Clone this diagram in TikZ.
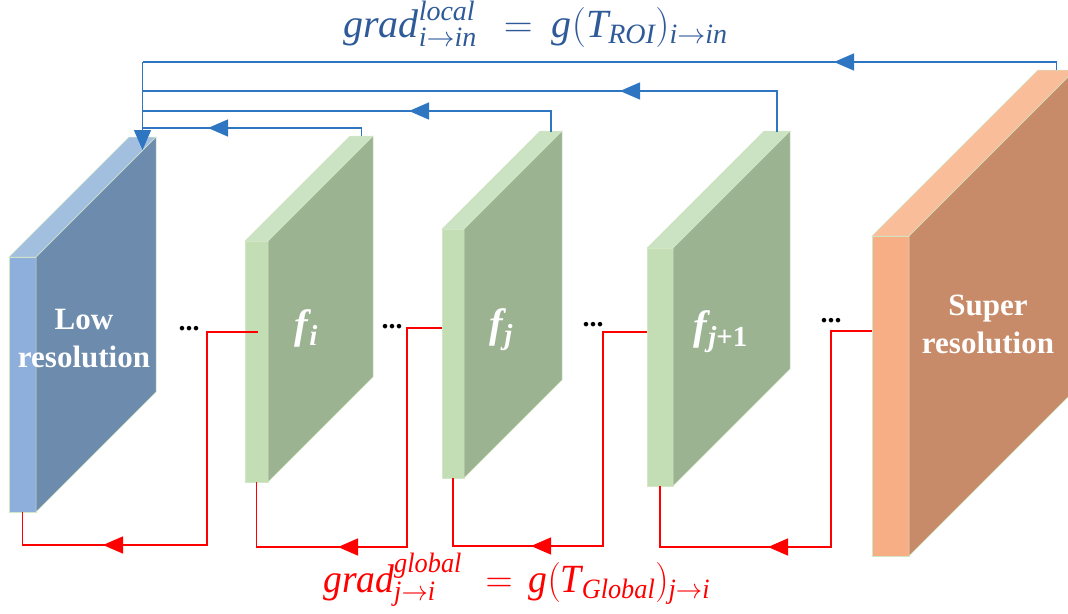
\RequirePackage{fix-cm}
\documentclass[tikz,border=0pt]{standalone}
\usepackage{fontspec}
\setmainfont{Liberation Serif}
\usepackage{amsmath}
\usepackage{graphicx}
\usetikzlibrary{arrows.meta,calc}
\definecolor{lrfront}{HTML}{8EAEDB}
\definecolor{lrtop}{HTML}{A3BFE0}
\definecolor{lrside}{HTML}{6C8BAD}
\definecolor{gfront}{HTML}{C3DDB4}
\definecolor{gtop}{HTML}{CCE3C3}
\definecolor{gside}{HTML}{9CB392}
\definecolor{srfront}{HTML}{F8AE84}
\definecolor{srtop}{HTML}{F9BD99}
\definecolor{srside}{HTML}{C88B69}
\definecolor{edgecol}{HTML}{D3E6C6}
\definecolor{bluel}{HTML}{2E75C2}
\definecolor{bluetxt}{HTML}{2E5A98}
\definecolor{redl}{HTML}{FF0000}
\newcommand\myslab[9]{%
  \node[slabfront, fill=#7, minimum width=#4pt, minimum height=#5pt, anchor=north west] (#1) at (#2,#3) {};
  \filldraw[#9, draw=edgecol, line width=0.5pt] (#1.north east) -- ++(#6,-#6) -- ++(0,#5) -- (#1.south east) -- cycle;
  \filldraw[#8, draw=edgecol, line width=0.5pt] (#1.north west) -- ++(#6,-#6) -- ++(#4,0) -- (#1.north east) -- cycle;
}
\newcommand\fsub[1]{f\kern1.5pt\raisebox{-7pt}{\fontsize{29}{29}\selectfont #1}}
\begin{document}
\begin{tikzpicture}[x=1pt,y=-1pt,
  slabfront/.style={draw=edgecol, line width=0.5pt, inner sep=0pt, outer sep=0pt},
  bluec/.style={draw=bluel, line width=1.4pt},
  redc/.style={draw=redl, line width=1.4pt},
  btip/.style={-{Triangle[length=20pt,width=17pt]}},
  lbl/.style={text=white, font=\fontsize{31}{38}\selectfont\bfseries, align=center, inner sep=0pt},
  flbl/.style={text=white, font=\fontsize{41}{42}\selectfont\bfseries\itshape, inner sep=0pt, anchor=base west},
  dotsl/.style={font=\fontsize{28}{30}\selectfont\bfseries, inner sep=0pt},
  formula/.style={font=\fontsize{40}{42}\selectfont, inner sep=0pt, anchor=base west}]
\useasboundingbox (0,0) rectangle (1068,613);
\clip (0,0) rectangle (1068,613);

% slabs
\myslab{lr}{9}{257}{27}{255}{120}{lrfront}{lrtop}{lrside}
\myslab{fi}{245}{241}{23}{241}{105}{gfront}{gtop}{gside}
\myslab{fj}{442}{229}{22}{249}{98}{gfront}{gtop}{gside}
\myslab{fjj}{647}{248}{26}{238}{117}{gfront}{gtop}{gside}
\myslab{sr}{872}{236}{37}{320}{166}{srfront}{srtop}{srside}

% labels
\node[lbl] (lrtxt) at (84,339) {Low\\resolution};
\node[lbl] (srtxt) at (988,324) {Super\\resolution};
\node[flbl] (fitxt) at (294,338) {\fsub{i}};
\node[flbl] (fjtxt) at (489,337) {\fsub{j}};
\node[flbl] (fjjtxt) at (693,339) {\fsub{j\upshape +1}};

% dots
\node[dotsl] (d1) at (189,329) {...};
\node[dotsl] (d2) at (392,327) {...};
\node[dotsl] (d3) at (593,325) {...};
\node[dotsl] (d4) at (831,321) {...};

% blue connector anchors
\coordinate (lr-in) at ($(lr.north)+(120,-107)$);
\coordinate (fi-top) at ($(fi.north)+(105,-105)$);
\coordinate (fj-top) at ($(fj.north)+(98,-97)$);
\coordinate (fjj-top) at ($(fjj.north)+(117,-116)$);
\coordinate (sr-top) at ($(sr.north)+(166,-166)$);
\coordinate (b1) at (142.5,62);
\coordinate (b2) at (142.5,91);
\coordinate (b3) at (142.5,111);
\coordinate (b4) at (142.5,128);
\coordinate (bc1) at (1056.5,62);
\coordinate (bc2) at (777,91);
\coordinate (bc3) at (551,111);
\coordinate (bc4) at (361.5,128);
\coordinate (ba1) at (834,62);
\coordinate (ba2) at (620,91);
\coordinate (ba3) at (409,111);
\coordinate (ba4) at (208,128);

\draw[bluec] (sr-top) -- (bc1) -- (b1);
\draw[bluec] (fjj-top) -- (bc2) -- (b2);
\draw[bluec] (fj-top) -- (bc3) -- (b3);
\draw[bluec] (fi-top) -- (bc4) -- (b4);
\draw[bluec,btip] (bc1) -- (ba1);
\draw[bluec,btip] (bc2) -- (ba2);
\draw[bluec,btip] (bc3) -- (ba3);
\draw[bluec,btip] (bc4) -- (ba4);
\draw[bluec,btip] (b1) -- (lr-in);

% red connectors
\coordinate (fi-in) at (258,332);
\coordinate (fj-in) at (442,328);
\coordinate (fjj-in) at (647,332);
\coordinate (sr-in) at (872,331);
\coordinate (r1a) at (207,332); \coordinate (r1b) at (207,545); \coordinate (r1c) at (22.5,545); \coordinate (ra1) at (103,545);
\coordinate (r2a) at (407,328); \coordinate (r2b) at (407,547); \coordinate (r2c) at (256.5,547); \coordinate (ra2) at (338,547);
\coordinate (r3a) at (603,332); \coordinate (r3b) at (603,546); \coordinate (r3c) at (453,546); \coordinate (ra3) at (531,546);
\coordinate (r4a) at (831,331); \coordinate (r4b) at (831,547); \coordinate (r4c) at (660,547); \coordinate (ra4) at (768,547);

\draw[redc] (fi-in) -- (r1a) -- (r1b) -- (r1c) -- (lr.south);
\draw[redc] (fj-in) -- (r2a) -- (r2b) -- (r2c) -- (fi.south);
\draw[redc] (fjj-in) -- (r3a) -- (r3b) -- (r3c) -- (fj.south);
\draw[redc] (sr-in) -- (r4a) -- (r4b) -- (r4c) -- (fjj.south);
\draw[redc,btip] (r1b) -- (ra1);
\draw[redc,btip] (r2b) -- (ra2);
\draw[redc,btip] (r3b) -- (ra3);
\draw[redc,btip] (r4b) -- (ra4);

% formulas
\node[formula, text=bluetxt] (ftop) at (343,37) {$\mathit{grad}^{\mathit{local}}_{\mathit{i}\to \mathit{in}}\hspace{16pt}=\hspace{8pt}\mathit{g}(\mathit{T}_{\mathit{ROI}})_{\mathit{i}\to \mathit{in}}$};
\node[formula, text=redl] (fbot) at (323,592) {\scalebox{0.94}[1]{$\mathit{grad}^{\mathit{global}}_{\mathit{j}\to \mathit{i}}\hspace{14pt}=\hspace{6pt}\mathit{g}(\mathit{T}_{\mathit{Global}})_{\mathit{j}\to \mathit{i}}$}};
\end{tikzpicture}
\end{document}
